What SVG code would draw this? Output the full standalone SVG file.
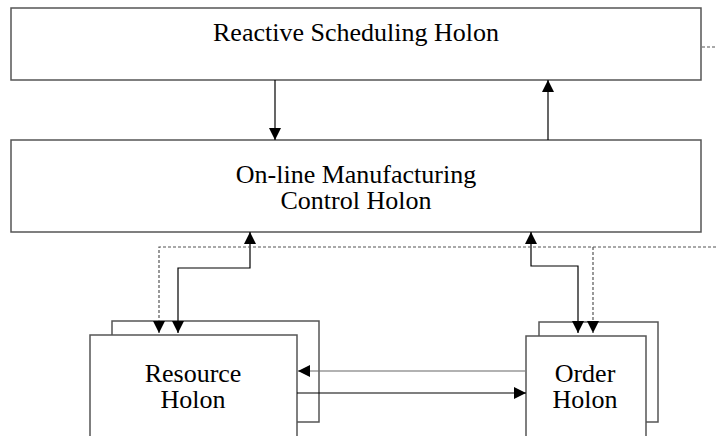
<svg xmlns="http://www.w3.org/2000/svg" width="716" height="436" viewBox="0 0 716 436">
  <style>
    .box { fill: #fff; stroke: #555; stroke-width: 1.5; }
    .lbl { font-family: "Liberation Serif", "Times New Roman", serif; font-size: 26px; fill: #000; text-anchor: middle; }
    .link { fill: none; stroke: #000; stroke-width: 1.2; }
    .link.gray { stroke: #666; }
    .dash { fill: none; stroke: #555; stroke-width: 1.2; stroke-dasharray: 3 2; }
  </style>
  <defs>
    <marker id="arr" viewBox="0 0 12 12" refX="12" refY="6" markerWidth="12" markerHeight="12" markerUnits="userSpaceOnUse" orient="auto-start-reverse">
      <path d="M0,0 L12,6 L0,12 Z" fill="#000"/>
    </marker>
  </defs>

  <rect width="716" height="436" fill="#fff"/>

  <g id="reactive-scheduling">
    <rect class="box" x="11" y="8" width="690" height="72"/>
    <text class="lbl" x="356" y="41">Reactive Scheduling Holon</text>
  </g>

  <g id="online-control">
    <rect class="box" x="11" y="140" width="690" height="92"/>
    <text class="lbl" x="356" y="183">On-line Manufacturing</text>
    <text class="lbl" x="356" y="209">Control Holon</text>
  </g>

  <g id="resource-holon">
    <rect class="box" x="112" y="321" width="207" height="101"/>
    <rect class="box" x="90" y="335" width="207" height="120"/>
    <text class="lbl" x="193" y="382">Resource</text>
    <text class="lbl" x="193" y="408">Holon</text>
  </g>

  <g id="order-holon">
    <rect class="box" x="539" y="322" width="119" height="100"/>
    <rect class="box" x="526" y="336" width="120" height="120"/>
    <text class="lbl" x="585" y="382">Order</text>
    <text class="lbl" x="585" y="408">Holon</text>
  </g>

  <g id="connectors">
    <path class="link" d="M275,80 V140" marker-end="url(#arr)"/>
    <path class="link" d="M548,140 V80" marker-end="url(#arr)"/>
    <path class="dash" d="M702,47 H716"/>

    <path class="link" d="M250,232 V268 H178 V333" marker-start="url(#arr)" marker-end="url(#arr)"/>
    <path class="link" d="M531,232 V266 H578 V333" marker-start="url(#arr)" marker-end="url(#arr)"/>

    <path class="dash" d="M159,333 V247 H716" marker-start="url(#arr)"/>
    <path class="dash" d="M593,247 V333" marker-end="url(#arr)"/>

    <path class="link gray" d="M525,371 H298" marker-end="url(#arr)"/>
    <path class="link" d="M297,393 H526" marker-end="url(#arr)"/>
  </g>
</svg>
